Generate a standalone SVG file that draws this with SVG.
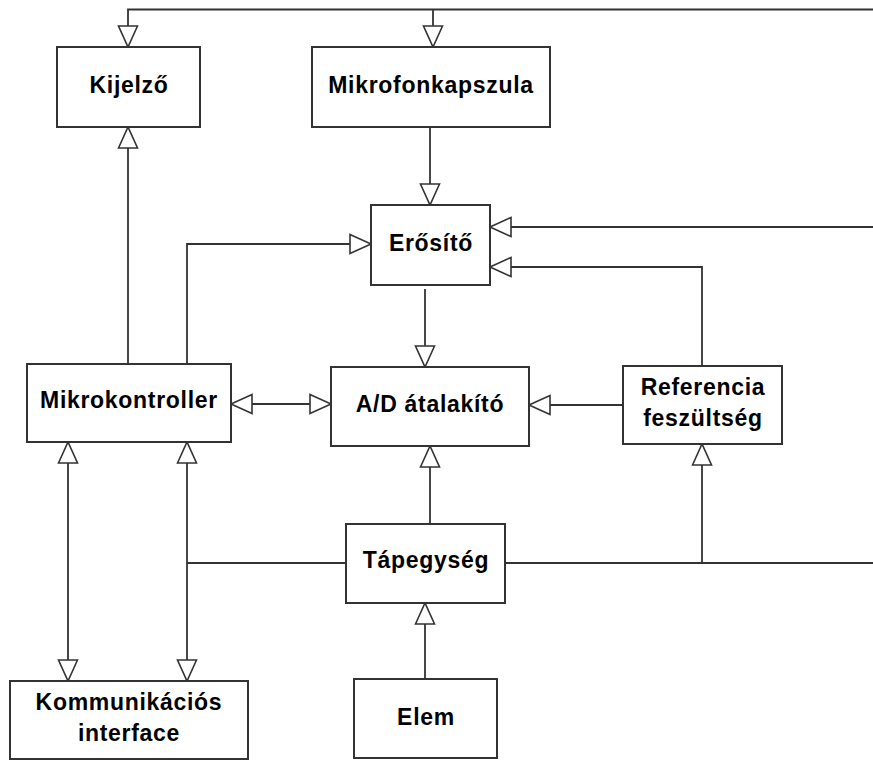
<svg xmlns="http://www.w3.org/2000/svg" width="873" height="760" viewBox="0 0 873 760">
<defs>
<style>
.box{fill:#fff;stroke:#333;stroke-width:2}
.lbl{font-family:"Liberation Sans",Arial,sans-serif;font-weight:bold;font-size:23px;letter-spacing:0.7px;fill:#000;text-anchor:middle}
.wire{fill:none;stroke:#333;stroke-width:1.8}
.arr{marker-end:url(#tri)}
.both{marker-start:url(#tri);marker-end:url(#tri)}
</style>
<marker id="tri" markerUnits="userSpaceOnUse" markerWidth="24" markerHeight="22" refX="21" refY="9.5" orient="auto-start-reverse" viewBox="-1 -1 24 21">
<path d="M0,0 L21,9.5 L0,19 Z" fill="#fff" stroke="#333" stroke-width="1.6"/>
</marker>
</defs>
<rect width="873" height="760" fill="#fff"/>
<g id="connectors">
<path class="wire arr" d="M873,9.5 H128 V47"/>
<path class="wire arr" d="M433,9.5 V47"/>
<path class="wire arr" d="M430,127 V205"/>
<path class="wire arr" d="M873,227 H490"/>
<path class="wire arr" d="M702,366 V267 H490"/>
<path class="wire arr" d="M128,364 V127"/>
<path class="wire arr" d="M187,364 V244 H371"/>
<path class="wire arr" d="M425,289 V367"/>
<path class="wire both" d="M231,404 H331"/>
<path class="wire arr" d="M623,405 H529"/>
<path class="wire arr" d="M430,524 V446"/>
<path class="wire" d="M505,563 H873"/>
<path class="wire arr" d="M702,563 V444"/>
<path class="wire" d="M346,563 H187"/>
<path class="wire both" d="M68,442 V681"/>
<path class="wire both" d="M187,442 V681"/>
<path class="wire arr" d="M425,679 V603"/>
</g>
<g id="kijelzo"><rect class="box" x="57" y="47" width="143" height="80"/><text class="lbl" x="129" y="93">Kijelző</text></g>
<g id="mikrofonkapszula"><rect class="box" x="312" y="47" width="238" height="80"/><text class="lbl" x="431" y="93">Mikrofonkapszula</text></g>
<g id="erosito"><rect class="box" x="371" y="205" width="119" height="80"/><text class="lbl" x="431" y="251">Erősítő</text></g>
<g id="mikrokontroller"><rect class="box" x="27" y="364" width="204" height="78"/><text class="lbl" x="129" y="408">Mikrokontroller</text></g>
<g id="ad"><rect class="box" x="331" y="367" width="198" height="79"/><text class="lbl" x="430" y="412">A/D átalakító</text></g>
<g id="referencia"><rect class="box" x="623" y="366" width="159" height="78"/><text class="lbl" x="703" y="395">Referencia</text><text class="lbl" x="703" y="426">feszültség</text></g>
<g id="tapegyseg"><rect class="box" x="346" y="524" width="159" height="79"/><text class="lbl" x="426" y="568">Tápegység</text></g>
<g id="kommunikacios"><rect class="box" x="10" y="681" width="238" height="78"/><text class="lbl" x="129" y="710">Kommunikációs</text><text class="lbl" x="129" y="741">interface</text></g>
<g id="elem"><rect class="box" x="354" y="679" width="143" height="79"/><text class="lbl" x="426" y="725">Elem</text></g>
</svg>
